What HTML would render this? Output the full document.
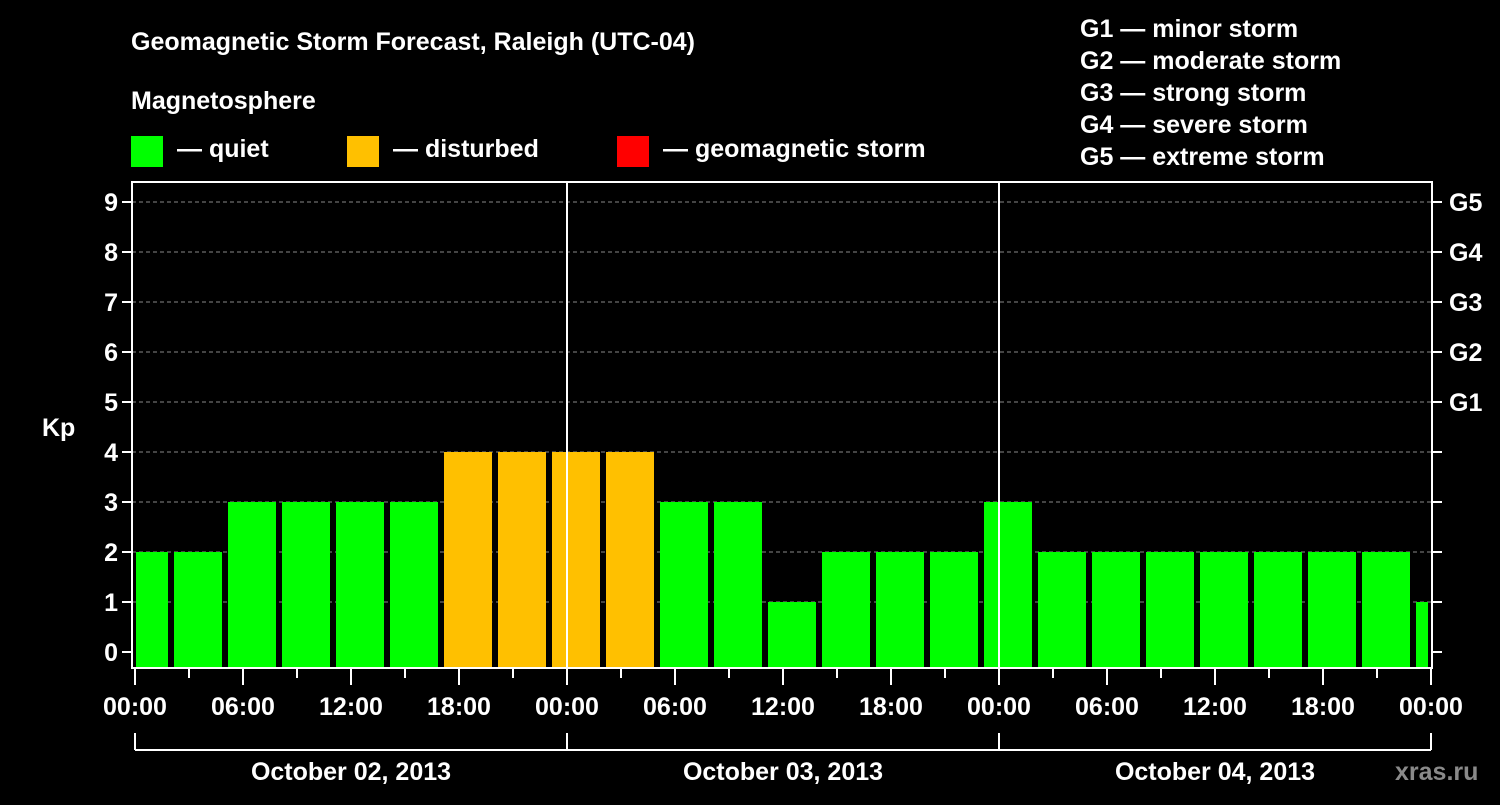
<!DOCTYPE html>
<html><head><meta charset="utf-8"><style>
body{margin:0;background:#000;}
svg text{font-family:"Liberation Sans",Arial,sans-serif;font-weight:bold;fill:#fff;}
</style></head><body>
<svg id="chart" width="1500" height="800" xmlns="http://www.w3.org/2000/svg">
<rect width="1500" height="800" fill="#000"/>
<text x="131" y="50" font-size="25">Geomagnetic Storm Forecast, Raleigh (UTC-04)</text>
<text x="131" y="109" font-size="25">Magnetosphere</text>
<g><rect x="131" y="136" width="32" height="31" fill="#00ff00"/><text x="177" y="157" font-size="25">— quiet</text></g>
<g><rect x="347" y="136" width="32" height="31" fill="#ffc000"/><text x="393" y="157" font-size="25">— disturbed</text></g>
<g><rect x="617" y="136" width="32" height="31" fill="#ff0000"/><text x="663" y="157" font-size="25">— geomagnetic storm</text></g>
<g font-size="25">
<text x="1080" y="37">G1 — minor storm</text>
<text x="1080" y="69">G2 — moderate storm</text>
<text x="1080" y="101">G3 — strong storm</text>
<text x="1080" y="133">G4 — severe storm</text>
<text x="1080" y="165">G5 — extreme storm</text>
</g>
<g id="grid"></g>
<g id="bars"></g>
<g id="axes"></g>
<text x="1395" y="780" font-size="25" fill="#888" style="fill:#8a8a8a">xras.ru</text>
</svg>
<script>
const kpValues=[2,2,3,3,3,3,4,4,4,4,3,3,1,2,2,2,3,2,2,2,2,2,2,2,1];
const barStartHour=-1;
const kpTicks=[0,1,2,3,4,5,6,7,8,9];
const gLabels=["","","","","","G1","G2","G3","G4","G5"];
const timeLabels=["00:00","06:00","12:00","18:00","00:00","06:00","12:00","18:00","00:00","06:00","12:00","18:00","00:00"];
const dayLabels=["October 02, 2013","October 03, 2013","October 04, 2013"];
const NS="http://www.w3.org/2000/svg";
const X0=135,PXH=18,Y0=652,PXK=50,L=132,R=1432,T=182,B=668;
const xs=h=>X0+h*PXH, ys=k=>Y0-k*PXK;
function mk(p,tag,a){const e=document.createElementNS(NS,tag);for(const k in a)e.setAttribute(k,a[k]);document.getElementById(p).appendChild(e);return e;}
kpTicks.forEach(k=>{if(k>0){const g=mk('grid','line',{x1:L,x2:R,y1:ys(k),y2:ys(k),stroke:'#888','stroke-dasharray':'4,3','stroke-width':1});

}});
kpValues.forEach((v,i)=>{let h0=barStartHour+i*3,h1=h0+3;let x0=Math.max(xs(h0)+3,L+4),x1=Math.min(xs(h1)-3,R-4);
const r=mk('bars','rect',{x:x0,y:ys(v),width:x1-x0,height:B-ys(v),fill:v>=5?'#ff0000':(v>=4?'#ffc000':'#00ff00')});

});
[24,48].forEach(h=>{const l=mk('axes','line',{x1:xs(h),x2:xs(h),y1:T,y2:B,stroke:'#fff','stroke-width':2});

});
const f=mk('axes','rect',{x:L,y:T,width:R-L,height:B-T,fill:'none',stroke:'#fff','stroke-width':2});


kpTicks.forEach(k=>{mk('axes','line',{x1:L-10,x2:L,y1:ys(k),y2:ys(k),stroke:'#fff','stroke-width':2});
mk('axes','line',{x1:R,x2:R+10,y1:ys(k),y2:ys(k),stroke:'#fff','stroke-width':2});
const t=mk('axes','text',{x:L-14,y:ys(k)+9,'font-size':25,'text-anchor':'end'});t.textContent=k;


if(gLabels[k]){const g=mk('axes','text',{x:R+17,y:ys(k)+9,'font-size':25});g.textContent=gLabels[k];

}});
const kp=mk('axes','text',{x:42,y:436,'font-size':25});kp.textContent='Kp';


for(let h=0;h<=72;h+=3){mk('axes','line',{x1:xs(h),x2:xs(h),y1:B,y2:h%6==0?685:678,stroke:'#fff','stroke-width':2});}
timeLabels.forEach((s,i)=>{const t=mk('axes','text',{x:xs(i*6),y:715,'font-size':25,'text-anchor':'middle'});t.textContent=s;

});
mk('axes','line',{x1:xs(0),x2:xs(72),y1:750,y2:750,stroke:'#fff','stroke-width':2});
[0,24,48,72].forEach(h=>mk('axes','line',{x1:xs(h),x2:xs(h),y1:733,y2:750,stroke:'#fff','stroke-width':2}));
dayLabels.forEach((s,i)=>{const t=mk('axes','text',{x:xs(i*24+12),y:780,'font-size':25,'text-anchor':'middle'});t.textContent=s;

});
</script>
</body></html>
